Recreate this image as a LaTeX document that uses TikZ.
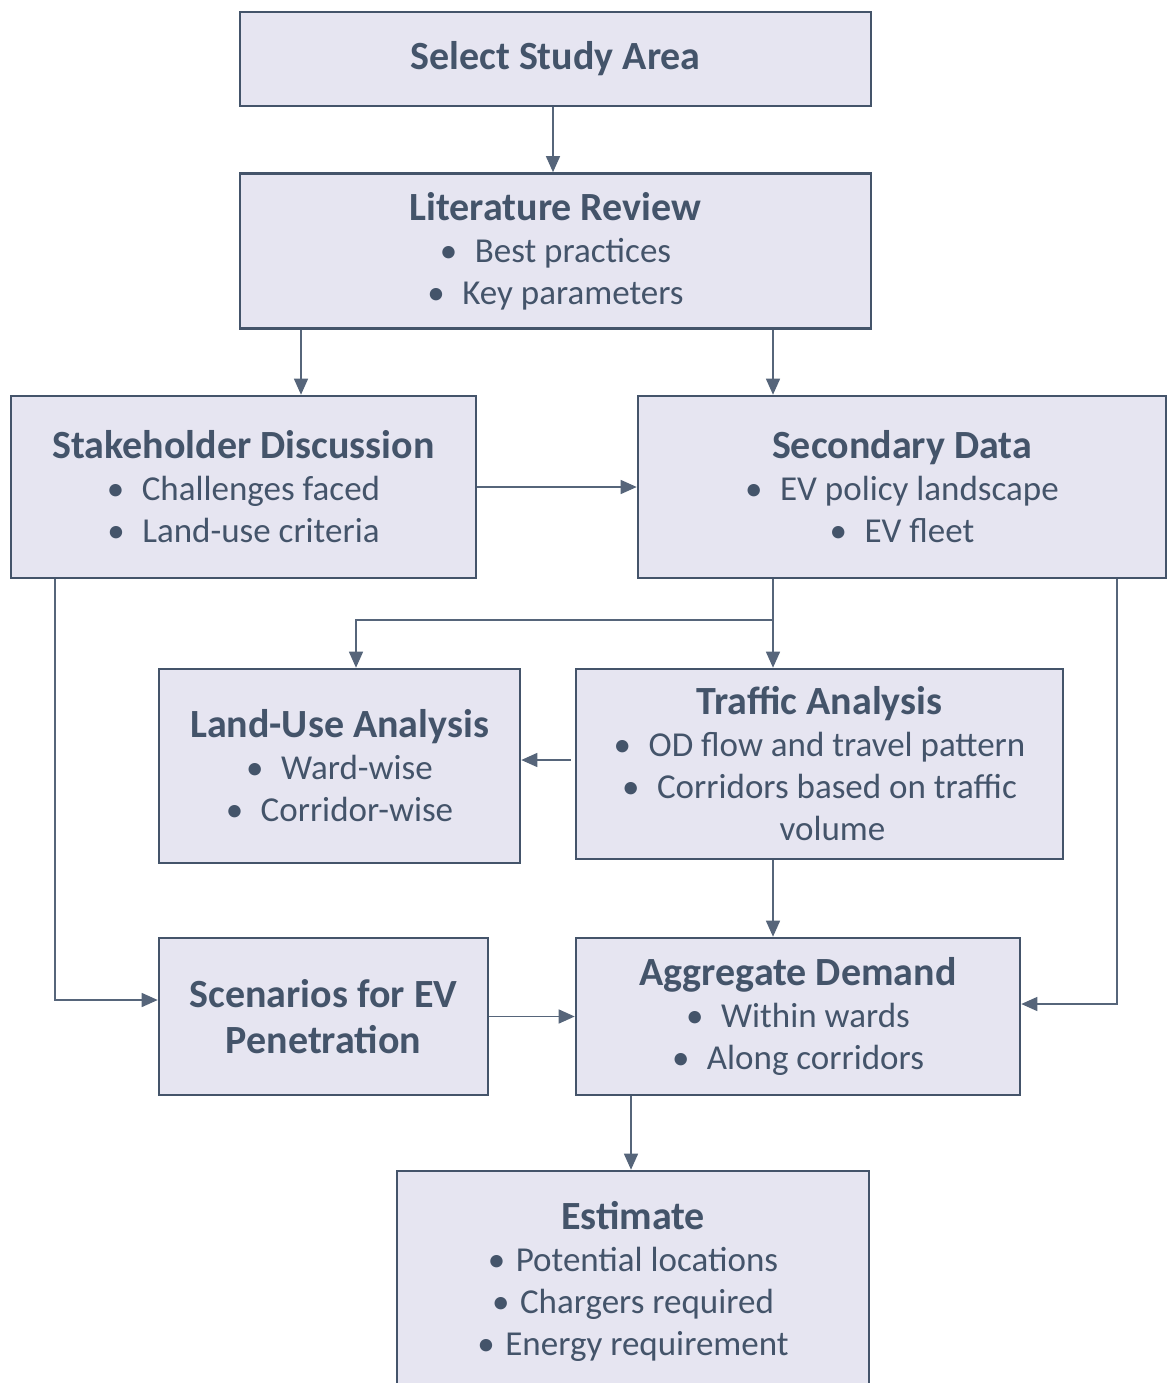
\documentclass[tikz,border=0pt]{standalone}
\usepackage{fontspec}
\setmainfont{Carlito}
\usetikzlibrary{arrows.meta}
\definecolor{boxfill}{HTML}{E6E5F1}
\definecolor{boxline}{HTML}{44546A}
\definecolor{arrline}{HTML}{56657A}
\newcommand{\hd}[1]{{\fontsize{40}{44}\selectfont\bfseries #1}}
\newcommand{\itm}[1]{\textbullet\hspace{0.5em}#1}

\begin{document}
\begin{tikzpicture}[x=1pt, y=-1pt,
	box/.style={draw=boxline, fill=boxfill, line width=2.6pt, align=center, text=boxline, inner sep=0pt,
		font=\fontsize{35}{42}\selectfont},
	arr/.style={draw=arrline, line width=1.4pt, -{Triangle[length=16pt, width=14pt]}}]
	\useasboundingbox (0,0) rectangle (1167,1383);
	% boxes
	\node[box, minimum width=631pt, minimum height=94pt] (sel) at (555.5,59) {\hd{Select Study Area}};
	\node[box, minimum width=631pt, minimum height=155pt] (litrev) at (555.5,251) {\hd{Literature Review}\\ \itm{Best practices}\\ \itm{Key parameters}};
	\node[box, minimum width=465pt, minimum height=182pt] (stake) at (243.5,487) {\hd{Stakeholder Discussion}\\ \itm{Challenges faced}\\ \itm{Land-use criteria}};
	\node[box, minimum width=528pt, minimum height=182pt] (secdata) at (902,487) {\hd{Secondary Data}\\ \itm{EV policy landscape}\\ \itm{EV fleet}};
	\node[box, minimum width=361pt, minimum height=194pt] (landuse) at (339.5,766) {\hd{Land-Use Analysis}\\ \itm{Ward-wise}\\ \itm{Corridor-wise}};
	\node[box, minimum width=487pt, minimum height=190pt] (traffic) at (819.5,764) {\hd{Traffic Analysis}\\ \itm{OD flow and travel pattern}\\ \itm{Corridors based on traffic}\\ \hspace{26pt}volume};
	\node[box, minimum width=329pt, minimum height=157pt] (scen) at (323.5,1016.5) {\hd{Scenarios for EV}\\[4pt] \hd{Penetration}};
	\node[box, minimum width=444pt, minimum height=157pt] (aggr) at (798,1016.5) {\hd{Aggregate Demand}\\ \itm{Within wards}\\ \itm{Along corridors}};
	\node[box, minimum width=472pt, minimum height=220pt] (estim) at (633,1281) {\hd{Estimate}\\ \textbullet\hspace{0.3em}Potential locations\\ \textbullet\hspace{0.3em}Chargers required\\ \textbullet\hspace{0.3em}Energy requirement};
	% connector guides
	\coordinate (xs) at (553,0);
	\coordinate (xa) at (301,0);
	\coordinate (xb) at (773,0);
	\coordinate (xc) at (356,620);
	\coordinate (xd) at (631,0);
	\coordinate (k1) at (55,1000);
	\coordinate (k2) at (1117,1004);
	\coordinate (k3) at (0,760);
	% connectors
	\draw[arr] (sel.south -| xs) -- (litrev.north -| xs);
	\draw[arr] (litrev.south -| xa) -- (stake.north -| xa);
	\draw[arr] (litrev.south -| xb) -- (secdata.north -| xb);
	\draw[arr] (stake.east) -- (secdata.west);
	\draw[arr] (secdata.south -| xb) -- (traffic.north -| xb);
	\draw[arr] (xc -| xb) -- (xc) -- (landuse.north -| xc);
	\draw[arr] ([xshift=-4pt]traffic.west |- k3) -- (landuse.east |- k3);
	\draw[arr] (stake.south -| k1) |- (scen.west |- k1);
	\draw[arr] (secdata.south -| k2) |- (aggr.east |- k2);
	\draw[arr] (traffic.south -| xb) -- (aggr.north -| xb);
	\draw[arr] (scen.east) -- (aggr.west);
	\draw[arr] (aggr.south -| xd) -- (estim.north -| xd);
\end{tikzpicture}
\end{document}
